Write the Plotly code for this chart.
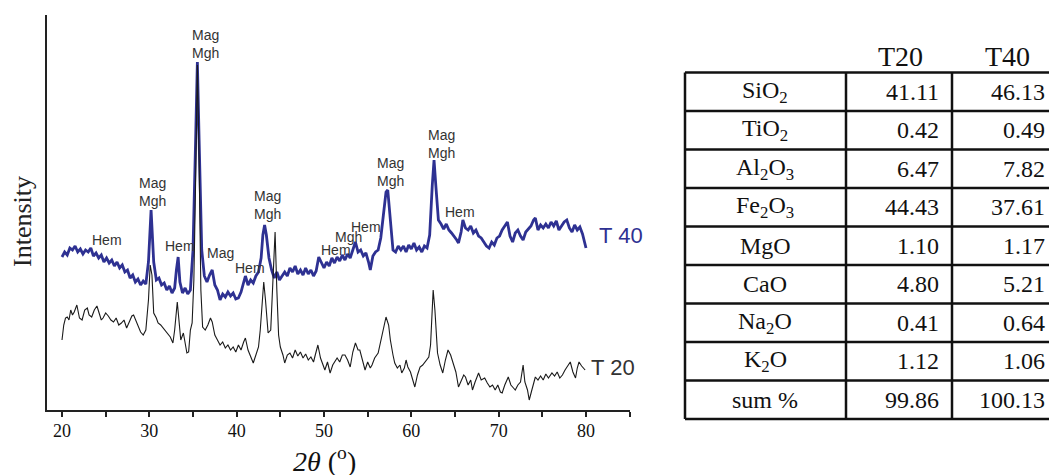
import plotly.graph_objects as go

# ---------------- data ----------------
two_theta_T40 = [
    20.0, 20.3, 20.6, 20.9, 21.2, 21.5, 21.8, 22.1, 22.4, 22.7,
    23.0, 23.3, 23.6, 23.9, 24.2, 24.5, 24.8, 25.1, 25.4, 25.7,
    26.0, 26.3, 26.6, 26.9, 27.2, 27.5, 27.8, 28.1, 28.4, 28.7,
    29.0, 29.3, 29.6, 29.9, 30.2, 30.5, 30.8, 31.1, 31.4, 31.7,
    32.0, 32.3, 32.6, 32.9, 33.1, 33.3, 33.5, 33.8, 34.1, 34.4,
    34.7, 35.0, 35.3, 35.5, 35.7, 36.0, 36.3, 36.6, 36.9, 37.2,
    37.5, 37.8, 38.1, 38.4, 38.7, 39.0, 39.3, 39.6, 39.9, 40.2,
    40.5, 40.8, 41.0, 41.3, 41.6, 41.9, 42.2, 42.5, 42.8, 43.0,
    43.2, 43.4, 43.7, 44.0, 44.3, 44.6, 44.9, 45.2, 45.5, 45.8,
    46.1, 46.4, 46.7, 47.0, 47.3, 47.6, 47.9, 48.2, 48.5, 48.8,
    49.1, 49.4, 49.7, 50.0, 50.3, 50.6, 50.9, 51.2, 51.5, 51.8,
    52.1, 52.4, 52.7, 53.0, 53.3, 53.6, 53.9, 54.2, 54.5, 54.8,
    55.1, 55.3, 55.6, 55.9, 56.2, 56.5, 56.8, 57.1, 57.3, 57.6,
    57.9, 58.2, 58.5, 58.8, 59.1, 59.4, 59.7, 60.0, 60.3, 60.6,
    60.9, 61.2, 61.5, 61.8, 62.1, 62.4, 62.6, 62.8, 63.1, 63.4,
    63.7, 64.0, 64.3, 64.6, 64.9, 65.2, 65.4, 65.7, 65.9, 66.2,
    66.5, 66.8, 67.1, 67.4, 67.7, 68.0, 68.3, 68.6, 68.9, 69.2,
    69.5, 69.8, 70.1, 70.4, 70.7, 71.0, 71.3, 71.6, 71.9, 72.2,
    72.5, 72.8, 73.1, 73.4, 73.7, 74.0, 74.2, 74.5, 74.8, 75.1,
    75.4, 75.7, 76.0, 76.3, 76.6, 76.9, 77.2, 77.5, 77.8, 78.1,
    78.4, 78.7, 79.0, 79.3, 79.6, 79.8, 80.0,
]
intensity_T40 = [
    153, 158, 155, 162, 160, 164, 158, 161, 156, 160,
    158, 162, 154, 157, 152, 155, 148, 152, 147, 150,
    144, 148, 142, 145, 138, 140, 132, 135, 128, 131,
    125, 129, 126, 148, 200, 148, 130, 132, 125, 127,
    120, 124, 117, 122, 140, 153, 128, 117, 122, 116,
    120, 160, 270, 348, 270, 160, 134, 128, 135, 140,
    125, 120, 110, 116, 113, 118, 114, 117, 111, 112,
    118, 127, 134, 125, 130, 127, 134, 138, 152, 175,
    185, 175, 152, 140, 132, 138, 130, 134, 138, 134,
    142, 138, 144, 136, 140, 135, 142, 136, 140, 134,
    139, 153, 148, 142, 148, 144, 152, 147, 153, 149,
    155, 150, 156, 152, 160, 168, 158, 160, 154, 157,
    148, 140, 154, 158, 160, 172, 195, 218, 220, 190,
    160, 158, 164, 160, 164, 158, 165, 161, 167, 160,
    163, 158, 164, 162, 175, 225, 250, 225, 190, 186,
    181, 186, 180, 177, 174, 170, 167, 178, 190, 182,
    180, 184, 177, 180, 174, 172, 168, 164, 162, 168,
    165, 172, 174, 180, 184, 188, 174, 168, 177, 180,
    174, 170, 178, 181, 184, 190, 192, 180, 185, 182,
    186, 182, 188, 184, 189, 180, 184, 188, 190, 182,
    178, 185, 180, 183, 176, 170, 162,
]

two_theta_T20 = [
    20.0, 20.2, 20.4, 20.6, 20.8, 21.0, 21.2, 21.4, 21.7, 22.0,
    22.3, 22.6, 22.9, 23.1, 23.4, 23.7, 24.0, 24.2, 24.5, 24.7,
    25.0, 25.3, 25.6, 25.9, 26.2, 26.5, 26.8, 27.1, 27.4, 27.7,
    28.0, 28.2, 28.5, 28.7, 29.0, 29.3, 29.6, 29.9, 30.1, 30.3,
    30.5, 30.8, 31.0, 31.3, 31.6, 31.8, 32.1, 32.4, 32.7, 32.9,
    33.2, 33.4, 33.6, 33.9, 34.1, 34.3, 34.5, 34.7, 34.9, 35.1,
    35.3, 35.5, 35.7, 35.9, 36.1, 36.4, 36.7, 37.0, 37.2, 37.5,
    37.8, 38.1, 38.4, 38.7, 39.0, 39.3, 39.6, 39.9, 40.2, 40.5,
    40.8, 41.0, 41.3, 41.6, 41.9, 42.2, 42.5, 42.7, 42.9, 43.1,
    43.3, 43.6, 43.9, 44.1, 44.4, 44.6, 44.8, 45.0, 45.3, 45.5,
    45.8, 46.1, 46.4, 46.7, 47.0, 47.3, 47.6, 47.9, 48.2, 48.5,
    48.8, 49.0, 49.3, 49.6, 49.9, 50.1, 50.4, 50.7, 51.0, 51.3,
    51.5, 51.8, 52.1, 52.4, 52.7, 53.0, 53.3, 53.6, 53.9, 54.1,
    54.4, 54.7, 55.0, 55.3, 55.5, 55.8, 56.2, 56.5, 56.8, 57.1,
    57.4, 57.6, 57.9, 58.1, 58.4, 58.7, 58.9, 59.2, 59.4, 59.6,
    59.9, 60.1, 60.4, 60.7, 61.0, 61.3, 61.6, 61.8, 62.0, 62.2,
    62.4, 62.5, 62.7, 62.9, 63.0, 63.3, 63.6, 63.9, 64.2, 64.5,
    64.8, 65.1, 65.4, 65.7, 66.0, 66.2, 66.5, 66.8, 67.0, 67.3,
    67.7, 68.0, 68.4, 68.7, 69.0, 69.3, 69.6, 69.9, 70.2, 70.4,
    70.7, 71.1, 71.4, 71.7, 71.9, 72.2, 72.5, 72.8, 73.0, 73.3,
    73.5, 73.8, 74.0, 74.2, 74.5, 74.8, 75.1, 75.4, 75.7, 76.1,
    76.4, 76.7, 77.0, 77.3, 77.6, 77.9, 78.2, 78.5, 78.8, 79.0,
    79.2, 79.5, 79.7, 79.9,
]
intensity_T20 = [
    70, 85, 92, 93, 90, 100, 95, 98, 105, 92,
    90, 100, 102, 95, 93, 100, 104, 98, 90, 92,
    97, 94, 90, 88, 92, 85, 87, 90, 82, 88,
    94, 95, 88, 83, 78, 75, 80, 110, 145, 135,
    97, 92, 87, 85, 82, 80, 76, 73, 67, 80,
    108, 90, 70, 77, 65, 57, 58, 80, 87, 130,
    230, 345, 250, 120, 83, 80, 85, 92, 88, 75,
    70, 65, 68, 62, 65, 60, 63, 58, 65, 60,
    68, 72, 60, 54, 47, 55, 63, 80, 110, 128,
    110, 77, 80, 120, 178, 120, 75, 63, 55, 47,
    55, 57, 52, 60, 54, 58, 52, 56, 50, 53,
    48, 55, 65, 52, 45, 40, 48, 37, 45, 50,
    52, 48, 55, 55, 50, 43, 58, 67, 60, 60,
    50, 40, 48, 42, 45, 52, 57, 68, 82, 93,
    85, 70, 55, 47, 42, 45, 37, 42, 50, 43,
    38, 32, 23, 35, 43, 45, 48, 50, 53, 65,
    110, 120, 100, 65, 57, 45, 37, 50, 60, 55,
    47, 38, 23, 30, 35, 33, 25, 30, 20, 28,
    37, 30, 32, 27, 23, 25, 20, 25, 18, 17,
    25, 33, 25, 22, 20, 25, 28, 45, 28, 20,
    10, 20, 28, 33, 30, 34, 30, 36, 32, 37,
    34, 38, 32, 35, 40, 44, 48, 38, 32, 42,
    48, 44, 42, 40,
]

x_tick_values = [20, 30, 40, 50, 60, 70, 80]

# peak labels: (2theta, intensity, text)
peak_labels = [
    (36.4, 366, "Mag<br>Mgh"),
    (30.4, 218, "Mag<br>Mgh"),
    (43.5, 205, "Mag<br>Mgh"),
    (57.6, 238, "Mag<br>Mgh"),
    (63.5, 266, "Mag<br>Mgh"),
    (25.2, 170, "Hem"),
    (33.5, 164, "Hem"),
    (38.1, 157, "Mag"),
    (41.5, 142, "Hem"),
    (51.4, 160, "Hem"),
    (52.8, 173, "Mgh"),
    (54.8, 183, "Hem"),
    (65.6, 198, "Hem"),
]

table_rows = ["SiO<sub>2</sub>", "TiO<sub>2</sub>", "Al<sub>2</sub>O<sub>3</sub>",
              "Fe<sub>2</sub>O<sub>3</sub>", "MgO", "CaO", "Na<sub>2</sub>O",
              "K<sub>2</sub>O", "sum %"]
table_T20 = ["41.11", "0.42", "6.47", "44.43", "1.10", "4.80", "0.41", "1.12", "99.86"]
table_T40 = ["46.13", "0.49", "7.82", "37.61", "1.17", "5.21", "0.64", "1.06", "100.13"]
table_headers = ["T20", "T40"]

# ---------------- figure ----------------
W, H = 1049, 475
BLUE = "#2E3192"
SANS = "Liberation Sans, Arial, sans-serif"
SERIF = "Liberation Serif, Times New Roman, serif"


def px(x):
    return x / W


def py(y):
    return 1 - y / H


def note(x, y, text, font, xanchor="center", yanchor="middle", **kw):
    d = dict(x=x, y=y, xref="paper", yref="paper", text=text, showarrow=False,
             xanchor=xanchor, yanchor=yanchor, font=font)
    d.update(kw)
    return d


fig = go.Figure()
fig.add_trace(go.Scatter(x=two_theta_T40, y=intensity_T40, mode="lines",
                         line=dict(color=BLUE, width=2.8), name="T 40",
                         showlegend=False))
fig.add_trace(go.Scatter(x=two_theta_T20, y=intensity_T20, mode="lines",
                         line=dict(color="#1a1a1a", width=1.1), name="T 20",
                         showlegend=False))

annotations = []
for xv, yv, txt in peak_labels:
    annotations.append(dict(x=xv, y=yv, xref="x", yref="y", text=txt,
                            showarrow=False, xanchor="center", yanchor="middle",
                            font=dict(family=SANS, size=14, color="#333333")))

annotations.append(note(px(621), py(235), "T 40",
                        dict(family=SANS, size=22, color=BLUE)))
annotations.append(note(px(613), py(367), "T 20",
                        dict(family=SANS, size=22, color="#333333")))
annotations.append(note(px(324), py(459), "<i>2θ</i> (<sup>o</sup>)",
                        dict(family=SERIF, size=28, color="#111111")))
annotations.append(note(px(22), py(222), "Intensity",
                        dict(family=SERIF, size=26, color="#222222"),
                        textangle=-90))

# ---- table ----
tbl_left, tbl_right = 685, 1060
col1, col2 = 846, 952
tbl_top, row_h = 72.5, 38.5
n_rows = len(table_rows)
tbl_bottom = tbl_top + row_h * n_rows
shapes = []
line_style = dict(color="#111111", width=2.5)
for i in range(n_rows + 1):
    yy = tbl_top + row_h * i
    shapes.append(dict(type="line", xref="paper", yref="paper",
                       x0=px(tbl_left), x1=px(tbl_right), y0=py(yy), y1=py(yy),
                       line=line_style))
for xx in (tbl_left, col1, col2):
    shapes.append(dict(type="line", xref="paper", yref="paper",
                       x0=px(xx), x1=px(xx), y0=py(tbl_top), y1=py(tbl_bottom),
                       line=line_style))

for j, hdr in enumerate(table_headers):
    cx = 900 if j == 0 else 1007
    annotations.append(note(px(cx), py(56), hdr,
                            dict(family=SERIF, size=28, color="#111111")))

for i in range(n_rows):
    cy = tbl_top + row_h * (i + 0.5)
    annotations.append(note(px(765), py(cy), table_rows[i],
                            dict(family=SERIF, size=24, color="#111111")))
    annotations.append(note(px(941), py(cy), table_T20[i],
                            dict(family=SERIF, size=24, color="#111111"),
                            xanchor="right"))
    annotations.append(note(px(1047), py(cy), table_T40[i],
                            dict(family=SERIF, size=24, color="#111111"),
                            xanchor="right"))

x_px_per_deg = (586 - 62) / 60.0
fig.update_layout(
    width=W, height=H,
    margin=dict(l=0, r=0, t=0, b=0),
    paper_bgcolor="white", plot_bgcolor="white",
    showlegend=False,
    xaxis=dict(domain=[px(47), px(630)],
               range=[20 - 15 / x_px_per_deg, 20 + (630 - 62) / x_px_per_deg],
               tickvals=x_tick_values, ticks="outside", ticklen=5, tickwidth=1.5,
               tickcolor="#222222", ticklabelstandoff=-2,
               minor=dict(dtick=5, tick0=0, ticks="outside", ticklen=5,
                          tickwidth=1.5, tickcolor="#222222"),
               showline=True, linecolor="#222222", linewidth=1.8,
               showgrid=False, zeroline=False, automargin=False,
               tickfont=dict(family=SERIF, size=18, color="#111111")),
    yaxis=dict(domain=[py(410), py(15)], range=[0, 395],
               showticklabels=False, ticks="", showline=True,
               linecolor="#222222", linewidth=1.8, showgrid=False,
               zeroline=False, automargin=False),
    annotations=annotations,
    shapes=shapes,
)

fig.write_html(
    "out.html",
    config={"displayModeBar": False},
    post_script="document.body.style.margin='0px';"
                "document.documentElement.style.overflow='hidden';",
)
